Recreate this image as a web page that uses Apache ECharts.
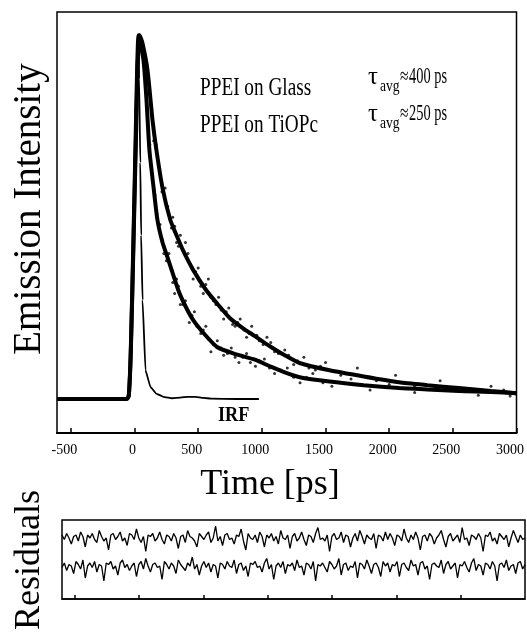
<!DOCTYPE html>
<html><head><meta charset="utf-8">
<script src="https://cdn.jsdelivr.net/npm/echarts@6/dist/echarts.min.js"></script>
<style>html,body{margin:0;padding:0;background:#fff}#c{width:527px;height:635px}</style>
</head><body><div id="c"></div>
<script>
// ---- tick labels ----
const xTicks = [-500, 0, 500, 1000, 1500, 2000, 2500, 3000];
const resTicks = [-500, 0, 500, 1000, 1500, 2000, 2500];

// ---- PPEI on Glass (tau_avg ~ 400 ps), normalized intensity ----
const glassTimes = [-609, -300, -60, -45, -30, -10, 10, 25, 40, 62, 102, 141, 172, 220, 281, 330, 383, 460, 563, 650, 750, 850, 945, 1063, 1180, 1297, 1531, 1800, 2078, 2300, 2547, 2800, 3000];
const glassValues = [0, 0, 0, 0.01, 0.12, 0.40, 0.70, 0.92, 1.0, 0.979, 0.904, 0.767, 0.684, 0.58, 0.492, 0.45, 0.407, 0.355, 0.299, 0.262, 0.222, 0.195, 0.173, 0.145, 0.12, 0.099, 0.079, 0.062, 0.046, 0.038, 0.030, 0.022, 0.016];
const glassScatter = [[150,0.71],[200,0.62],[240,0.58],[300,0.50],[330,0.43],[360,0.45],[420,0.40],[460,0.33],[500,0.36],[540,0.29],[580,0.33],[620,0.27],[660,0.28],[700,0.22],[740,0.25],[790,0.20],[830,0.22],[880,0.17],[920,0.20],[980,0.16],[1040,0.17],[1100,0.13],[1180,0.135],[1250,0.095],[1330,0.115],[1420,0.08],[1500,0.10],[1620,0.065],[1750,0.085],[1900,0.05],[2050,0.065],[2200,0.035],[2400,0.05],[2600,0.02],[2800,0.035],[2950,0.008],
  [170,0.70],[190,0.64],[215,0.57],[260,0.53],[290,0.47],[315,0.475],[345,0.42],[400,0.43],[440,0.37],[480,0.35],[520,0.31],[560,0.315],[600,0.28],[640,0.26],[680,0.245],[720,0.24],[770,0.205],[810,0.21],[860,0.19],[900,0.18],[960,0.175],[1010,0.15],[1070,0.155],[1130,0.125],[1210,0.12],[1280,0.105],[1370,0.085],[1460,0.09]];

// ---- PPEI on TiOPc (tau_avg ~ 250 ps) ----
const tiopcTimes = [-609, -300, -60, -45, -30, -10, 10, 20, 32, 70, 94, 117, 150, 180, 220, 266, 344, 400, 461, 550, 648, 780, 945, 1063, 1180, 1297, 1531, 1800, 2078, 2300, 2547, 2800, 3000];
const tiopcValues = [0, 0, 0, 0.01, 0.13, 0.42, 0.74, 0.90, 1.0, 0.932, 0.822, 0.684, 0.58, 0.492, 0.43, 0.382, 0.299, 0.255, 0.217, 0.178, 0.143, 0.125, 0.108, 0.09, 0.073, 0.06, 0.048, 0.038, 0.030, 0.026, 0.022, 0.019, 0.016];
const tiopcScatter = [[120,0.70],[160,0.56],[200,0.48],[230,0.40],[270,0.40],[300,0.32],[330,0.33],[360,0.26],[400,0.27],[430,0.21],[470,0.24],[520,0.18],[560,0.20],[600,0.13],[650,0.16],[700,0.12],[760,0.14],[820,0.10],[880,0.125],[950,0.09],[1020,0.11],[1100,0.07],[1200,0.085],[1300,0.045],[1400,0.07],[1550,0.035],[1700,0.055],[1850,0.025],[2000,0.04],[2200,0.018],[2400,0.035],[2700,0.01],[2900,0.025],
  [130,0.64],[140,0.60],[175,0.51],[190,0.47],[215,0.44],[250,0.38],[285,0.36],[315,0.29],[345,0.31],[380,0.26],[415,0.245],[450,0.23],[490,0.20],[540,0.19],[580,0.165],[620,0.15],[680,0.14],[730,0.125],[790,0.115],[850,0.115],[910,0.10],[980,0.105],[1060,0.085],[1150,0.08],[1250,0.06],[1350,0.06],[1480,0.045]];

// ---- Instrument response function ----
const irfTimes = [-609, -300, -55, -47, -30, -15, -5, 8, 20, 27, 36, 45, 52, 63, 86, 125, 170, 227, 297, 360, 420, 480, 540, 600, 800, 977];
const irfValues = [0, 0, 0, 0.005, 0.12, 0.35, 0.55, 0.78, 0.97, 1.0, 0.88, 0.65, 0.45, 0.272, 0.079, 0.033, 0.015, 0.006, 0.002, 0.004, 0.006, 0.006, 0.003, 0.001, 0, 0];

// ---- residuals (two traces, arbitrary units) ----
const residGlass = [2,-1,3,0,-4,1,2,-2,4,1,-6,2,0,3,-1,-3,5,1,-2,0,
-8,2,3,-1,1,4,-2,0,-5,3,2,-1,6,0,-3,1,-9,2,1,3,
-2,0,4,-1,-4,2,1,-2,3,0,-7,1,2,-3,5,1,0,-2,-6,3,
1,-1,2,4,-3,0,8,-2,1,-5,2,3,-1,0,-4,2,1,6,-2,-8,
3,0,-1,2,-3,4,1,-6,2,0,3,-2,1,-4,5,0,-1,2,-7,1,
3,-2,0,4,-1,-5,2,1,-3,3,7,-1,0,-2,2,-9,1,3,-1,0,
4,-3,2,1,-6,0,3,-2,5,1,-4,2,0,-1,3,-7,2,1,-2,4,
-1,3,0,-5,2,1,-2,6,0,-3,2,-1,4,0,-8,1,2,-2,3,1,
-4,0,2,5,-1,-6,1,3,-2,0,2,-3,7,-1,0,-5,2,1,-1,3,
0,-9,2,1,4,-2,0,-4,3,1,-1,2,-6,0,5,1,-3,2,-1,0];
const residTiOPc = [-1,2,-3,1,0,-5,3,1,-2,4,-8,0,2,-1,3,-4,1,0,-10,2,
1,3,-2,0,-6,2,4,-1,1,-3,0,2,-7,1,3,-2,5,0,-4,1,
2,-1,0,-9,3,1,-2,2,0,-5,4,1,-1,-3,2,0,6,-2,1,-6,
0,3,-1,2,-4,1,0,-8,2,1,-2,3,0,-1,4,-5,1,2,-3,0,
-7,2,1,3,-1,0,-4,2,5,-2,1,-9,0,2,-1,3,-5,1,0,2,
-3,4,-1,0,-6,2,1,-2,3,-10,1,0,2,-1,-4,3,1,-2,0,5,
-6,1,2,-3,0,-1,3,-8,2,1,-2,4,0,-5,1,2,-1,-7,3,0,
2,-4,1,0,3,-7,1,2,-1,-3,4,0,1,-6,2,3,-2,0,-9,1,
2,0,-1,4,-5,1,3,-2,0,2,-8,1,0,3,-1,-4,2,5,-3,1,
0,-6,2,1,-2,3,0,-10,1,2,-1,4,-3,0,1,-5,2,3,-2,1];
const residStart = -600, residEnd = 3000;

// ---------------------------------------------------------------
const FONT = 'Liberation Serif';
const zip = (t, v) => t.map((x, i) => [x, v[i]]);
const residTimes = residGlass.map((_, i) => residStart + i * (residEnd - residStart) / (residGlass.length - 1));
const resOffsetGlass = 10.67, resOffsetTi = -8;

const chart = echarts.init(document.getElementById('c'), null, {renderer: 'canvas'});

function txt(x, y, text, size, sx, opts) {
  opts = opts || {};
  return {
    type: 'text', x: x, y: y, scaleX: sx, scaleY: 1, rotation: opts.rot || 0,
    style: {text: text, fontFamily: FONT, fontSize: size, fontWeight: opts.bold ? 'bold' : 'normal',
      fill: '#000', textAlign: opts.align || 'left', textVerticalAlign: 'middle'}
  };
}

const tickLab = {
  customValues: xTicks, margin: 10, color: '#000',
  formatter: v => v === 0 ? '{z|0}' : '{a|' + v + '}',
  rich: {
    a: {fontFamily: FONT, fontSize: 14, color: '#000', padding: [0, 13, 0, 0]},
    z: {fontFamily: FONT, fontSize: 14, color: '#000', padding: [0, 4, 0, 0]}
  }
};

chart.setOption({
  animation: false,
  backgroundColor: '#fff',
  grid: [
    {left: 57, top: 12, width: 462, height: 421, show: true, borderColor: '#000', borderWidth: 1.5},
    {left: 62, top: 520, width: 463, height: 79, show: true, borderColor: '#000', borderWidth: 1.5}
  ],
  xAxis: [
    {gridIndex: 0, type: 'value', min: -609, max: 3000,
     axisLine: {show: true, onZero: false, lineStyle: {color: '#000', width: 2}},
     axisTick: {show: true, inside: true, length: 5, customValues: xTicks, lineStyle: {color: '#000', width: 1.5}},
     axisLabel: tickLab, splitLine: {show: false}},
    {gridIndex: 1, type: 'value', min: residStart, max: residEnd,
     axisLine: {show: true, onZero: false, lineStyle: {color: '#000', width: 1.5}},
     axisTick: {show: true, inside: true, length: 4, customValues: resTicks, lineStyle: {color: '#000', width: 1.5}},
     axisLabel: {show: false}, splitLine: {show: false}}
  ],
  yAxis: [
    {gridIndex: 0, type: 'value', min: -0.0935, max: 1.064, show: false, splitLine: {show: false}},
    {gridIndex: 1, type: 'value', min: -30, max: 22.67, show: false, splitLine: {show: false}}
  ],
  series: [
    {name: 'IRF', type: 'line', xAxisIndex: 0, yAxisIndex: 0, data: zip(irfTimes, irfValues),
     showSymbol: false, smooth: 0.1, smoothMonotone: 'x', lineStyle: {color: '#000', width: 1.8}, z: 3},
    {name: 'PPEI on Glass', type: 'line', xAxisIndex: 0, yAxisIndex: 0, data: zip(glassTimes, glassValues),
     showSymbol: false, smooth: 0.2, lineStyle: {color: '#000', width: 4}, z: 4},
    {name: 'PPEI on TiOPc', type: 'line', xAxisIndex: 0, yAxisIndex: 0, data: zip(tiopcTimes, tiopcValues),
     showSymbol: false, smooth: 0.2, lineStyle: {color: '#000', width: 4}, z: 4},
    {name: 'Glass data', type: 'scatter', xAxisIndex: 0, yAxisIndex: 0, data: glassScatter,
     symbolSize: 3, itemStyle: {color: '#000'}, z: 5},
    {name: 'TiOPc data', type: 'scatter', xAxisIndex: 0, yAxisIndex: 0, data: tiopcScatter,
     symbolSize: 3, itemStyle: {color: '#000'}, z: 5},
    {name: 'Residuals Glass', type: 'line', xAxisIndex: 1, yAxisIndex: 1,
     data: residTimes.map((t, i) => [t, resOffsetGlass + residGlass[i]]),
     showSymbol: false, lineStyle: {color: '#000', width: 1.3}},
    {name: 'Residuals TiOPc', type: 'line', xAxisIndex: 1, yAxisIndex: 1,
     data: residTimes.map((t, i) => [t, resOffsetTi + residTiOPc[i]]),
     showSymbol: false, lineStyle: {color: '#000', width: 1.3}}
  ],
  graphic: [
    txt(30, 209, 'Emission Intensity', 39, 1, {rot: Math.PI / 2, align: 'center'}),
    txt(270, 485, 'Time [ps]', 36, 1, {align: 'center'}),
    txt(30, 560, 'Residuals', 36, 1, {rot: Math.PI / 2, align: 'center'}),
    txt(200, 88, 'PPEI on Glass', 26, 0.74),
    txt(200, 125, 'PPEI on TiOPc', 26, 0.74),
    txt(368, 77, 'τ', 26, 0.95),
    txt(380, 87, 'avg', 17, 0.8),
    txt(400, 77, '≈', 22, 0.7),
    txt(409, 77, '400 ps', 24, 0.6),
    txt(368, 114, 'τ', 26, 0.95),
    txt(380, 124, 'avg', 17, 0.8),
    txt(400, 114, '≈', 22, 0.7),
    txt(409, 114, '250 ps', 24, 0.6),
    txt(218, 415, 'IRF', 22, 0.83, {bold: true})
  ]
});
</script>
</body></html>
